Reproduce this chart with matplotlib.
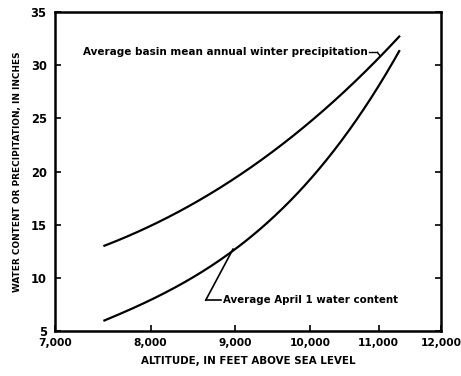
import matplotlib
matplotlib.use("Agg")
import matplotlib.pyplot as plt
import numpy as np

# Data
altitude = [7500, 8000, 8500, 9000, 9500, 10000, 10500, 11000, 11320]
precipitation = [13.0, 14.9, 17.1, 19.3, 21.9, 24.7, 27.6, 30.8, 32.6]
water_content = [6.0, 7.9, 10.1, 12.7, 15.8, 19.2, 23.4, 28.1, 31.3]

x_ticks = [7000, 8000, 9000, 10000, 11000, 12000]
x_tick_labels = ["7,000", "8,000", "9,000", "10,000", "11,000", "12,000"]
y_ticks = [5, 10, 15, 20, 25, 30, 35]

plt.rcParams['font.family'] = ['DejaVu Sans']
fig = plt.figure(figsize=(4.61, 3.76), dpi=100)
ax = fig.add_axes([55/461, 1-331/376, (441-55)/461, (331-12)/376])

def smooth(xs, ys):
    lx = np.log10(xs)
    xx = np.linspace(lx[0], lx[-1], 200)
    c = np.polyfit(lx, ys, 3)
    return 10**xx, np.polyval(c, xx)

sx, sy = smooth(altitude, precipitation)
ax.plot(sx, sy, color='black', lw=1.6)
sx, sy = smooth(altitude, water_content)
ax.plot(sx, sy, color='black', lw=1.6)

ax.set_xscale('log')
ax.set_xlim(7000, 12000)
ax.set_ylim(5, 35)
ax.set_xticks(x_ticks)
ax.set_xticklabels(x_tick_labels)
ax.xaxis.set_minor_locator(matplotlib.ticker.NullLocator())
ax.set_yticks(y_ticks)
ax.tick_params(axis='both', direction='in', length=4, width=1.2, labelsize=8.3)
ax.tick_params(axis='x', labelsize=7.7)
ax.tick_params(axis='y', right=True, left=True, pad=6)
ax.tick_params(axis='x', bottom=True, top=False, pad=5)
for lab in ax.get_xticklabels() + ax.get_yticklabels():
    lab.set_fontweight('bold')
for s in ax.spines.values():
    s.set_linewidth(1.8)

ax.set_xlabel("ALTITUDE, IN FEET ABOVE SEA LEVEL", fontsize=7.4, fontweight='bold', labelpad=6)
ax.set_ylabel("WATER CONTENT OR PRECIPITATION, IN INCHES", fontsize=6.4, fontweight='bold', labelpad=6)

# Annotations
ax.text(10830, 31.2, "Average basin mean annual winter precipitation",
        fontsize=7.5, fontweight='bold', ha='right', va='center')
ax.plot([10850, 10980], [31.2, 31.2], color='black', lw=1.0)
ax.plot([10980, 11020], [31.2, 30.9], color='black', lw=1.0)

ax.plot([8975, 8640], [12.7, 7.9], color='black', lw=1.2)
ax.plot([8640, 8830], [7.9, 7.9], color='black', lw=1.2)
ax.text(8850, 7.9, "Average April 1 water content", fontsize=7.4, fontweight='bold',
        ha='left', va='center')

fig.savefig("out.png", dpi=100)
